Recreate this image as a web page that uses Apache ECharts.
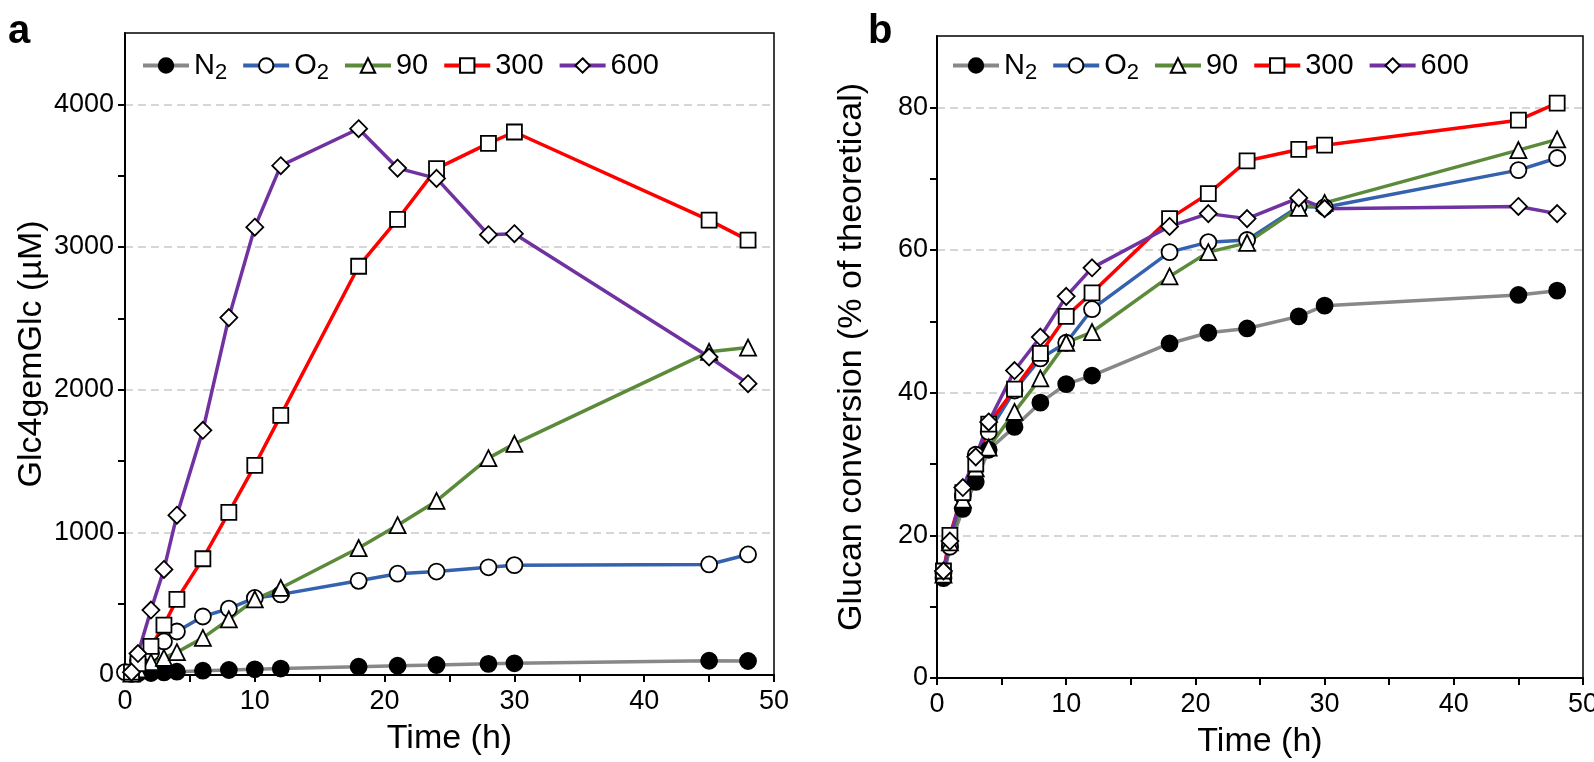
<!DOCTYPE html>
<html>
<head>
<meta charset="utf-8">
<title>Glc4gemGlc and glucan conversion</title>
<script src="https://cdn.jsdelivr.net/npm/echarts@6.0.0/dist/echarts.min.js"></script>
<style>
  html, body { margin: 0; padding: 0; background: #fff; }
  #chart { width: 1594px; height: 762px; }
</style>
</head>
<body>
<div id="chart"></div>
<script>
// sampling times (h)
const hours = [0.5, 1, 2, 3, 4, 6, 8, 10, 12, 18, 21, 24, 28, 30, 45, 48];
// the O2 curve in panel a starts right at the axis
const hoursO2a = [0, 1, 2, 3, 4, 6, 8, 10, 12, 18, 21, 24, 28, 30, 45, 48];

const seriesNames = ['N2', 'O2', '90', '300', '600'];

// panel a: Glc4gemGlc (µM)
const n2A = [8, 10, 14, 18, 23, 30, 35, 40, 45, 58, 65, 70, 78, 82, 100, 98];
const o2A = [20, 100, 155, 235, 305, 410, 465, 540, 565, 660, 710, 725, 755, 770, 775, 845];
const g90A = [10, 40, 90, 120, 160, 260, 390, 530, 610, 890, 1050, 1220, 1520, 1620, 2265, 2295];
const r300A = [20, 80, 200, 350, 530, 815, 1140, 1470, 1820, 2865, 3193, 3549, 3726, 3806, 3188, 3048];
const p600A = [20, 150, 455, 740, 1120, 1715, 2505, 3139, 3570, 3829, 3553, 3481, 3086, 3093, 2229, 2042];

// panel b: glucan conversion (% of theoretical)
const n2B = [14, 18.5, 23.7, 27.5, 32.0, 35.2, 38.6, 41.2, 42.4, 46.9, 48.4, 49.0, 50.7, 52.2, 53.7, 54.3];
const o2B = [14.7, 18.4, 25.5, 31.3, 34.5, 40.3, 44.8, 47.0, 51.7, 59.7, 61.1, 61.4, 66.1, 66.0, 71.2, 72.9];
const g90B = [14.5, 19, 25, 29.4, 32.3, 37.3, 42.0, 47.0, 48.5, 56.3, 59.7, 61.0, 65.9, 66.6, 74.0, 75.5];
const r300B = [15, 20.0, 26.0, 30.0, 35.6, 40.5, 45.5, 50.7, 54.0, 64.4, 67.9, 72.5, 74.1, 74.7, 78.2, 80.6];
const p600B = [15, 19.2, 26.7, 31.0, 35.9, 43.1, 47.8, 53.5, 57.5, 63.3, 65.1, 64.4, 67.3, 65.8, 66.1, 65.1];

const FONT = 'Liberation Sans, Arial, sans-serif';
// tick numbers in the original are a narrow face
const TICK_FONT = 'Liberation Sans Narrow, Arial Narrow, Liberation Sans, sans-serif';

// look of each series
const styles = {
  'N2':  {line: '#888888', symbol: 'circle',   size: 16, fill: '#000'},
  'O2':  {line: '#3462ae', symbol: 'circle',   size: 16, fill: '#fff'},
  '90':  {line: '#5b8b3a', symbol: 'triangle', size: 16, fill: '#fff'},
  '300': {line: '#ff0000', symbol: 'rect',     size: 15, fill: '#fff'},
  '600': {line: '#7132a1', symbol: 'diamond',  size: 17, fill: '#fff'}
};

const zip = (xs, ys) => xs.map((x, i) => [x, ys[i]]);

const makeSeries = (name, xs, ys, idx) => {
  const s = styles[name];
  return {
    name: name,
    type: 'line',
    xAxisIndex: idx,
    yAxisIndex: idx,
    data: zip(xs, ys),
    symbol: s.symbol,
    symbolSize: s.size,
    showAllSymbol: true,
    clip: false,
    lineStyle: {color: s.line, width: 3.5},
    itemStyle: {color: s.fill, borderColor: '#000', borderWidth: 1.8},
    emphasis: {disabled: true}
  };
};

const xAxisOf = (idx) => ({
  gridIndex: idx,
  type: 'value',
  min: 0,
  max: 50,
  interval: 5,
  name: 'Time (h)',
  nameLocation: 'middle',
  nameGap: 47,
  nameTextStyle: {fontSize: 34, color: '#000', fontFamily: FONT},
  axisLine: {onZero: false, lineStyle: {color: '#000', width: 2}},
  axisTick: {length: 7, lineStyle: {color: '#000', width: 2}},
  axisLabel: {
    fontSize: 27, color: '#000', fontFamily: TICK_FONT, margin: 13,
    formatter: v => (v % 10 === 0 ? String(v) : '')
  },
  splitLine: {show: false}
});

const yAxisOf = (idx, max, step, name, gap, labelMargin) => ({
  gridIndex: idx,
  type: 'value',
  min: 0,
  max: max,
  interval: step,
  name: name,
  nameLocation: 'middle',
  nameGap: gap,
  nameTextStyle: {fontSize: 34, color: '#000', fontFamily: FONT},
  axisLine: {lineStyle: {color: '#000', width: 2}},
  axisTick: {length: 7, lineStyle: {color: '#000', width: 2}},
  axisLabel: {
    fontSize: 27, color: '#000', fontFamily: TICK_FONT, margin: labelMargin,
    showMaxLabel: false,
    formatter: v => (v % (step * 2) === 0 ? String(v) : '')
  },
  splitLine: {
    show: true,
    showMinLine: false,
    showMaxLine: false,
    // only every second tick gets a dashed grid line
    lineStyle: {color: ['rgba(0,0,0,0)', '#d6d6d6'], width: 2, type: [8, 5]}
  }
});

const legendOf = (left) => ({
  left: left,
  top: 46,
  data: seriesNames,
  itemWidth: 46,
  itemHeight: 18,
  itemGap: 14,
  selectedMode: false,
  lineStyle: {width: 4},
  formatter: n => (n === 'N2' || n === 'O2') ? n[0] + '{sub|2}' : n,
  textStyle: {
    fontSize: 29, color: '#000', fontFamily: TICK_FONT,
    rich: {sub: {fontSize: 22, fontFamily: TICK_FONT, color: '#000', verticalAlign: 'bottom', padding: [14, 0, 0, 0]}}
  }
});

const chart = echarts.init(document.getElementById('chart'));

chart.setOption({
  animation: false,
  backgroundColor: '#fff',
  grid: [
    {left: 125, top: 33, width: 649, height: 642, outerBoundsMode: 'none', containLabel: false,
      show: true, borderColor: '#000', borderWidth: 1.5},
    {left: 937, top: 36, width: 646, height: 642, outerBoundsMode: 'none', containLabel: false,
      show: true, borderColor: '#000', borderWidth: 1.5}
  ],
  xAxis: [xAxisOf(0), xAxisOf(1)],
  yAxis: [
    yAxisOf(0, 4500, 500, 'Glc4gemGlc (µM)', 76, 11),
    yAxisOf(1, 90, 10, 'Glucan conversion (% of theoretical)', 68, 9)
  ],
  legend: [legendOf(136), legendOf(946)],
  graphic: [
    {type: 'text', left: 8, top: 12, style: {text: 'a', font: 'bold 40px ' + FONT, fill: '#000'}},
    {type: 'text', left: 868, top: 12, style: {text: 'b', font: 'bold 40px ' + FONT, fill: '#000'}}
  ],
  series: [
    makeSeries('N2', hours, n2A, 0),
    makeSeries('O2', hoursO2a, o2A, 0),
    makeSeries('90', hours, g90A, 0),
    makeSeries('300', hours, r300A, 0),
    makeSeries('600', hours, p600A, 0),
    makeSeries('N2', hours, n2B, 1),
    makeSeries('O2', hours, o2B, 1),
    makeSeries('90', hours, g90B, 1),
    makeSeries('300', hours, r300B, 1),
    makeSeries('600', hours, p600B, 1)
  ]
});
</script>
</body>
</html>
